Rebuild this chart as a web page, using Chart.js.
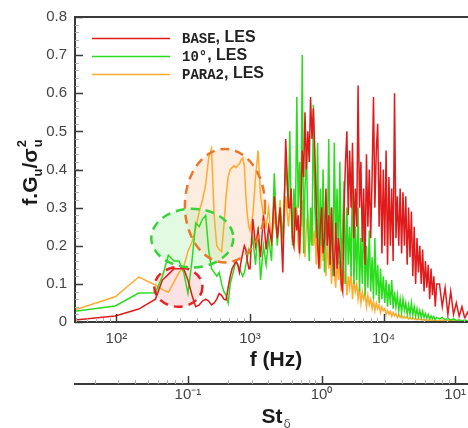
<!DOCTYPE html>
<html>
<head>
<meta charset="utf-8">
<script src="https://cdn.jsdelivr.net/npm/chart.js@4.4.0/dist/chart.umd.min.js"></script>
<style>
  html, body { margin: 0; padding: 0; background: #fff; overflow: hidden; }
  #wrap { position: relative; width: 478px; height: 428px; }
</style>
</head>
<body>
<div id="wrap"><canvas id="spectrumChart"></canvas></div>
<script>
// Shared frequency bins (Hz)
const freqHz = [
  49, 98, 147, 196, 221, 245, 270, 294, 319, 343, 368, 392, 417, 441, 466, 490, 515, 539,
  564, 588, 613, 637, 662, 686, 711, 735, 760, 784, 809, 833, 858, 882, 907, 931, 956, 980,
  1000, 1050, 1100, 1150, 1200, 1260, 1320, 1380, 1450, 1520, 1600, 1680, 1760, 1850, 1940,
  1985, 2030, 2080, 2130, 2185, 2240, 2295, 2350, 2405, 2460,
  2520, 2580, 2645, 2710, 2775, 2840, 2910, 2980, 3055, 3130,
  3205, 3280, 3360, 3440, 3525, 3610, 3700, 3790, 3885, 3980,
  4075, 4170, 4275, 4380, 4485, 4590, 4705, 4820, 4940, 5060,
  5185, 5310, 5440, 5570, 5710, 5850, 5995, 6140, 6290, 6440,
  6600, 6760, 6925, 7090, 7265, 7440, 7625, 7810, 8005, 8200,
  8400, 8600, 8815, 9030, 9255, 9480, 9715, 9950, 10195, 10440,
  10700, 10960, 11230, 11500, 11785, 12070, 12370, 12670, 12985, 13300,
  13630, 13960, 14305, 14650, 15015, 15380, 15760, 16140, 16540, 16940,
  17360, 17780, 18220, 18660, 19125, 19590, 20075, 20560, 21070, 21580,
  22115, 22650, 23210, 23770, 24360, 24950,
  26190, 27490, 28850, 30280, 31780, 33360, 35010, 36750, 38570, 40480, 42490, 44600
];

// f.Gu/σu² for each case
const baseLes = [
  0.005, 0.016, 0.034, 0.06, 0.11, 0.125, 0.14, 0.14, 0.14, 0.11, 0.07, 0.04, 0.045, 0.055, 0.06, 0.055, 0.045, 0.05,
  0.06, 0.075, 0.07, 0.06, 0.058, 0.09, 0.12, 0.14, 0.15, 0.16, 0.15, 0.13, 0.16, 0.18, 0.2, 0.19, 0.16, 0.14,
  0.14, 0.27, 0.2, 0.24, 0.17, 0.28, 0.19, 0.25, 0.21, 0.33, 0.22, 0.3, 0.13, 0.48, 0.3,
  0.3, 0.35, 0.22, 0.2, 0.3, 0.24, 0.28, 0.18, 0.3, 0.45,
  0.38, 0.55, 0.4, 0.5, 0.42, 0.59, 0.48, 0.56, 0.45, 0.3,
  0.2, 0.14, 0.25, 0.3, 0.18, 0.22, 0.35, 0.2, 0.28, 0.15,
  0.3, 0.18, 0.12, 0.26, 0.14, 0.22, 0.18, 0.1, 0.08, 0.3,
  0.42, 0.5, 0.28, 0.45, 0.3, 0.47, 0.22, 0.35, 0.25, 0.62,
  0.3, 0.42, 0.21, 0.35, 0.15, 0.44, 0.25, 0.4, 0.22, 0.38,
  0.59, 0.3, 0.45, 0.52, 0.25, 0.42, 0.18, 0.4, 0.2, 0.45,
  0.15, 0.38, 0.2, 0.35, 0.16, 0.6, 0.22, 0.33, 0.2, 0.35,
  0.18, 0.34, 0.2, 0.33, 0.15, 0.3, 0.17, 0.29, 0.12, 0.25,
  0.1, 0.22, 0.13, 0.2, 0.1, 0.19, 0.08, 0.16, 0.09, 0.15,
  0.06, 0.14, 0.07, 0.12, 0.04, 0.1,
  0.1, 0.04, 0.09, 0.02, 0.08, 0.02, 0.05, 0.015, 0.04, 0.01, 0.025, 0.01
];
const tenDegLes = [
  0.028, 0.042, 0.076, 0.077, 0.12, 0.175, 0.16, 0.16, 0.13, 0.075, 0.16, 0.26, 0.25, 0.27, 0.28, 0.19, 0.14, 0.13,
  0.12, 0.13, 0.1, 0.08, 0.07, 0.05, 0.1, 0.12, 0.14, 0.16, 0.15, 0.14, 0.13, 0.12, 0.13, 0.15, 0.17, 0.19,
  0.18, 0.22, 0.15, 0.25, 0.11, 0.2, 0.15, 0.22, 0.16, 0.39, 0.2, 0.3, 0.22, 0.42, 0.3,
  0.5, 0.3, 0.2, 0.35, 0.25, 0.59, 0.3, 0.42, 0.25, 0.70,
  0.18, 0.35, 0.45, 0.25, 0.16, 0.3, 0.2, 0.57, 0.3, 0.22,
  0.47, 0.15, 0.35, 0.2, 0.4, 0.13, 0.3, 0.2, 0.48, 0.15,
  0.3, 0.12, 0.47, 0.2, 0.35, 0.15, 0.42, 0.12, 0.25, 0.37,
  0.1, 0.3, 0.15, 0.25, 0.12, 0.42, 0.1, 0.25, 0.11, 0.3,
  0.08, 0.22, 0.1, 0.31, 0.07, 0.2, 0.09, 0.24, 0.08, 0.17,
  0.06, 0.22, 0.07, 0.15, 0.05, 0.14, 0.06, 0.12, 0.05, 0.11,
  0.04, 0.1, 0.045, 0.11, 0.035, 0.08, 0.04, 0.07, 0.03, 0.06,
  0.025, 0.06, 0.03, 0.05, 0.02, 0.045, 0.02, 0.05, 0.018, 0.04,
  0.015, 0.035, 0.014, 0.03, 0.012, 0.028, 0.012, 0.022, 0.01, 0.02,
  0.008, 0.016, 0.008, 0.014, 0.006, 0.012,
  0.008, 0.012, 0.006, 0.01, 0.005, 0.008, 0.004, 0.006, 0.003, 0.005, 0.003, 0.003
];
const para2Les = [
  0.032, 0.066, 0.118, 0.097, 0.085, 0.078, 0.105, 0.13, 0.145, 0.185, 0.21, 0.245, 0.29, 0.32, 0.36, 0.43, 0.455, 0.28,
  0.2, 0.19, 0.185, 0.25, 0.33, 0.38, 0.40, 0.405, 0.41, 0.405, 0.41, 0.415, 0.425, 0.43, 0.41, 0.33, 0.28, 0.25,
  0.24, 0.28, 0.38, 0.45, 0.33, 0.28, 0.25, 0.3, 0.2, 0.28, 0.22, 0.32, 0.2, 0.33, 0.25,
  0.3, 0.35, 0.22, 0.2, 0.28, 0.3, 0.2, 0.18, 0.25, 0.32,
  0.22, 0.17, 0.26, 0.28, 0.2, 0.22, 0.3, 0.2, 0.24, 0.15,
  0.27, 0.18, 0.14, 0.25, 0.16, 0.2, 0.12, 0.22, 0.14, 0.18,
  0.1, 0.2, 0.13, 0.09, 0.17, 0.11, 0.16, 0.08, 0.14, 0.1,
  0.14, 0.07, 0.12, 0.09, 0.13, 0.06, 0.11, 0.08, 0.1, 0.06,
  0.09, 0.05, 0.08, 0.06, 0.075, 0.04, 0.07, 0.045, 0.06, 0.035,
  0.055, 0.03, 0.05, 0.035, 0.045, 0.025, 0.04, 0.03, 0.035, 0.02,
  0.03, 0.02, 0.028, 0.015, 0.025, 0.016, 0.022, 0.012, 0.02, 0.012,
  0.018, 0.01, 0.015, 0.01, 0.014, 0.008, 0.012, 0.008, 0.011, 0.007,
  0.01, 0.006, 0.009, 0.006, 0.008, 0.005, 0.007, 0.005, 0.006, 0.004,
  0.006, 0.004, 0.005, 0.004, 0.005, 0.003,
  0.004, 0.005, 0.003, 0.004, 0.003, 0.004, 0.002, 0.003, 0.002, 0.003, 0.002, 0.002
];

const seriesLabels = ["BASE, LES", "10°, LES", "PARA2, LES"];
const seriesColors = ["#e11b1b", "#2bdc1c", "#ffab2e"];

// axis ticks
const yTicks = [0, 0.1, 0.2, 0.3, 0.4, 0.5, 0.6, 0.7, 0.8];
const freqMajorTicks = [100, 1000, 10000];
const strouhalMajorTicks = [0.1, 1, 10];
const minorSteps = [2, 3, 4, 5, 6, 7, 8, 9];
const hzPerStrouhal = 3430;

// highlighted regions: centre (Hz, value), half width (decades), half height (value)
const regionHz = [291, 370, 650];
const regionVal = [0.092, 0.22, 0.305];
const regionDecades = [0.18, 0.307, 0.30];
const regionHalfVal = [0.052, 0.077, 0.149];
const regionStroke = ["#e32424", "#3ad23a", "#e8782c"];
const regionFill = ["rgba(245,165,165,0.32)", "rgba(165,240,165,0.32)", "rgba(250,195,160,0.32)"];

const supDigits = { "-": "⁻", "0": "⁰", "1": "¹", "2": "²", "3": "³", "4": "⁴" };
function powerLabel(v) {
  const e = Math.round(Math.log10(v)).toString();
  return "10" + e.split("").map(c => supDigits[c]).join("");
}

const datasets = [baseLes, tenDegLes, para2Les].map((vals, i) => ({
  label: seriesLabels[i],
  data: freqHz.map((f, k) => ({ x: f, y: vals[k] })),
  borderColor: seriesColors[i],
  backgroundColor: seriesColors[i],
  borderWidth: 1.5,
  pointRadius: 0,
  tension: 0
}));

function ellipsePath(ctx, x, y, i) {
  const cx = x.getPixelForValue(regionHz[i]);
  const rx = x.getPixelForValue(regionHz[i] * Math.pow(10, regionDecades[i])) - cx;
  const cy = y.getPixelForValue(regionVal[i]);
  const ry = y.getPixelForValue(regionVal[i] - regionHalfVal[i]) - cy;
  ctx.beginPath();
  ctx.ellipse(cx, cy, rx, ry, 0, 0, Math.PI * 2);
}

const decorPlugin = {
  id: "decor",
  beforeDatasetsDraw(chart) {
    const { ctx, scales: { x, y } } = chart;
    ctx.save();
    for (let i = regionHz.length - 1; i >= 0; i--) {
      ellipsePath(ctx, x, y, i);
      ctx.fillStyle = regionFill[i];
      ctx.fill();
    }
    ctx.restore();
  },
  afterDatasetsDraw(chart) {
    const { ctx, scales: { x, y } } = chart;
    ctx.save();
    ctx.lineWidth = 2.5;
    ctx.setLineDash([9, 6]);
    for (let i = 0; i < regionHz.length; i++) {
      ellipsePath(ctx, x, y, i);
      ctx.strokeStyle = regionStroke[i];
      ctx.stroke();
    }
    ctx.restore();
  },
  afterDraw(chart) {
    const { ctx, chartArea: a, scales: { x, y, x2 } } = chart;
    ctx.save();
    // frame
    ctx.strokeStyle = "#3a3a3a";
    ctx.lineWidth = 2;
    ctx.strokeRect(a.left, a.top, a.right - a.left, a.bottom - a.top);

    // y ticks (inward)
    ctx.lineWidth = 1;
    ctx.strokeStyle = "#b0b0b0";
    for (let v = 0; v <= 0.8001; v += 0.02) {
      const py = Math.round(y.getPixelForValue(v)) + 0.5;
      ctx.beginPath(); ctx.moveTo(a.left, py); ctx.lineTo(a.left + 4, py); ctx.stroke();
    }
    ctx.strokeStyle = "#3a3a3a";
    ctx.lineWidth = 1.5;
    yTicks.forEach(v => {
      const py = Math.round(y.getPixelForValue(v)) + 0.5;
      ctx.beginPath(); ctx.moveTo(a.left, py); ctx.lineTo(a.left + 8, py); ctx.stroke();
    });

    // x ticks (inward) and Strouhal axis ticks (upward)
    const minorTicks = (scale, majors, baseY) => {
      ctx.lineWidth = 1;
      ctx.strokeStyle = "#b0b0b0";
      const decades = [majors[0] / 10].concat(majors);
      decades.forEach(d => minorSteps.forEach(m => {
        const v = d * m;
        if (v < scale.min || v > scale.max) return;
        const px = Math.round(scale.getPixelForValue(v)) + 0.5;
        ctx.beginPath(); ctx.moveTo(px, baseY); ctx.lineTo(px, baseY - 4); ctx.stroke();
      }));
      ctx.lineWidth = 1.5;
      ctx.strokeStyle = "#3a3a3a";
      majors.forEach(v => {
        const px = Math.round(scale.getPixelForValue(v)) + 0.5;
        ctx.beginPath(); ctx.moveTo(px, baseY); ctx.lineTo(px, baseY - 8); ctx.stroke();
      });
    };
    minorTicks(x, freqMajorTicks, a.bottom);
    minorTicks(x2, strouhalMajorTicks, x2.top);

    // axis titles
    ctx.fillStyle = "#1a1a1a";
    ctx.textAlign = "center";
    ctx.textBaseline = "middle";
    ctx.font = "bold 21px 'Liberation Sans', Arial, sans-serif";
    const midX = (a.left + a.right) / 2;
    ctx.fillText("f (Hz)", midX, 360);

    ctx.textAlign = "left";
    ctx.textBaseline = "alphabetic";
    const stW = ctx.measureText("St").width;
    ctx.fillText("St", midX - stW / 2 - 4, 423);
    ctx.font = "12px 'DejaVu Sans', sans-serif";
    ctx.fillStyle = "#555";
    ctx.fillText("δ", midX + stW / 2 - 3, 428);

    // y title, rotated
    ctx.save();
    ctx.translate(37, 172);
    ctx.rotate(-Math.PI / 2);
    ctx.fillStyle = "#1a1a1a";
    const big = "bold 21px 'Liberation Sans', Arial, sans-serif";
    const small = "bold 13px 'Liberation Sans', Arial, sans-serif";
    ctx.font = big; const w1 = ctx.measureText("f.G").width;
    ctx.font = small; const wu = ctx.measureText("u").width;
    ctx.font = big; const w2 = ctx.measureText("/σ").width;
    ctx.font = small; const w3 = ctx.measureText("2").width;
    let tx = -(w1 + wu + w2 + Math.max(wu, w3) + 2) / 2;
    ctx.font = big; ctx.fillText("f.G", tx, 0); tx += w1;
    ctx.font = small; ctx.fillText("u", tx, 5); tx += wu;
    ctx.font = big; ctx.fillText("/σ", tx, 0); tx += w2 + 1;
    ctx.font = small; ctx.fillText("2", tx, -11); ctx.fillText("u", tx, 5);
    ctx.restore();

    // legend
    const rowY = [38, 56, 74];
    chart.data.datasets.forEach((ds, i) => {
      const ly = rowY[i];
      ctx.strokeStyle = ds.borderColor;
      ctx.lineWidth = 1.5;
      ctx.beginPath(); ctx.moveTo(92, ly + 0.5); ctx.lineTo(170, ly + 0.5); ctx.stroke();
      const parts = ds.label.split(",");
      ctx.fillStyle = "#222";
      ctx.textBaseline = "middle";
      ctx.textAlign = "left";
      ctx.font = "bold 14px 'Liberation Mono', 'DejaVu Sans Mono', monospace";
      ctx.fillText(parts[0], 182, ly + 1);
      const pw = ctx.measureText(parts[0]).width;
      ctx.font = "bold 16px 'Liberation Sans', Arial, sans-serif";
      ctx.fillText("," + parts[1], 182 + pw, ly);
    });
    ctx.restore();
  }
};

const tickFont = { family: "'Liberation Sans', Arial, sans-serif", size: 15 };

new Chart(document.getElementById("spectrumChart"), {
  type: "line",
  data: { datasets: datasets },
  options: {
    animation: false,
    responsive: true,
    maintainAspectRatio: false,
    devicePixelRatio: 1,
    layout: { padding: { left: 0, top: 16, right: 1, bottom: 0 } },
    plugins: { legend: { display: false }, tooltip: { enabled: false } },
    scales: {
      x: {
        type: "logarithmic",
        position: "bottom",
        min: 49,
        max: 50000,
        weight: 0,
        afterFit: s => { s.height = 62; },
        afterBuildTicks: s => { s.ticks = freqMajorTicks.map(v => ({ value: v })); },
        grid: { display: false, drawTicks: false },
        border: { display: false },
        ticks: { callback: v => powerLabel(v), font: tickFont, color: "#444", padding: 8, maxRotation: 0, autoSkip: false }
      },
      x2: {
        type: "logarithmic",
        position: "bottom",
        min: 49 / hzPerStrouhal,
        max: 50000 / hzPerStrouhal,
        weight: 1,
        afterFit: s => { s.height = 44; },
        afterBuildTicks: s => { s.ticks = strouhalMajorTicks.map(v => ({ value: v })); },
        grid: { display: false, drawTicks: false },
        border: { display: true, color: "#3a3a3a", width: 2 },
        ticks: { callback: v => powerLabel(v), font: tickFont, color: "#444", padding: 2, maxRotation: 0, autoSkip: false }
      },
      y: {
        type: "linear",
        min: 0,
        max: 0.8,
        afterFit: s => { s.width = 75; },
        afterBuildTicks: s => { s.ticks = yTicks.map(v => ({ value: v })); },
        grid: { display: false, drawTicks: false },
        border: { display: false },
        ticks: { callback: v => (v === 0 ? "0" : v.toFixed(1)), font: tickFont, color: "#444", padding: 8 }
      }
    }
  },
  plugins: [decorPlugin]
});
</script>
</body>
</html>
